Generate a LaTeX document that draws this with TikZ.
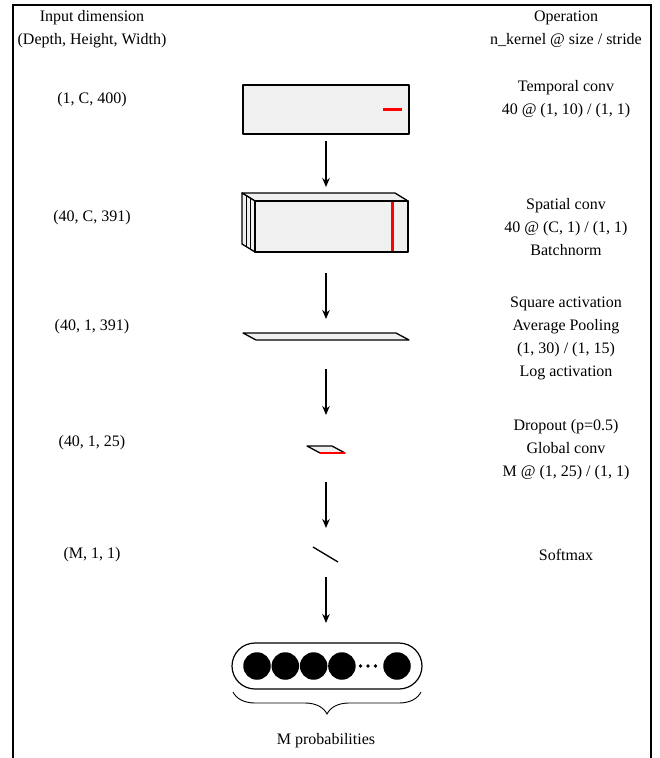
\documentclass[tikz,border=0pt]{standalone}
\usepackage{fontspec}
\setmainfont{Liberation Serif}
\usetikzlibrary{arrows.meta,decorations.pathreplacing}
\begin{document}
\begin{tikzpicture}[x=1pt,y=-1pt,
  lbl/.style={font=\fontsize{16}{23}\selectfont, align=center, inner sep=0pt},
  layer/.style={draw=black, line width=1.3pt, fill=black!6, line join=round},
  kern/.style={draw=red, line width=2.8pt},
  flow/.style={-{Stealth[length=9pt,width=7.5pt]}, line width=1.3pt},
  unit/.style={circle, fill=black, inner sep=0pt, minimum size=27.5pt},
  dot/.style={circle, fill=black, inner sep=0pt, minimum size=3.6pt},
]
\useasboundingbox (0,0) rectangle (660,758);

% outer frame, open at the bottom
\draw[line width=1.8pt] (13,758) -- (13,5) -- (651,5) -- (651,758);

% column headers
\node[lbl] (hdim) at (92,29.5) {Input dimension\\(Depth, Height, Width)};
\node[lbl] (hop)  at (566,29.5) {Operation\\n\_kernel @ size / stride};

% input dimensions
\node[lbl] (d1) at (92,100) {(1, C, 400)};
\node[lbl] (d2) at (92,218) {(40, C, 391)};
\node[lbl] (d3) at (92,327) {(40, 1, 391)};
\node[lbl] (d4) at (92,443) {(40, 1, 25)};
\node[lbl] (d5) at (92,555) {(M, 1, 1)};

% operations
\node[lbl] (o1) at (566,99.5) {Temporal conv\\40 @ (1, 10) / (1, 1)};
\node[lbl] (o2) at (566,227) {Spatial conv\\40 @ (C, 1) / (1, 1)\\Batchnorm};
\node[lbl] (o3) at (566,338.5) {Square activation\\Average Pooling\\(1, 30) / (1, 15)\\Log activation};
\node[lbl] (o4) at (566,450) {Dropout (p=0.5)\\Global conv\\M @ (1, 25) / (1, 1)};
\node[lbl] (o5) at (566,555) {Softmax};

% input slab with temporal kernel
\draw[layer] (243,85) rectangle (409,134);
\draw[kern] (383,109.5) -- (402,109.5);

% stacked feature maps after spatial conv
\draw[layer] (242,193) -- (395,193) -- (408,201) -- (255,201) -- cycle;
\draw[layer] (242,193) -- (255,201) -- (255,252) -- (242,244) -- cycle;
\draw[line width=1.1pt] (246.7,196) -- (246.7,247);
\draw[line width=1.1pt] (250.9,198.5) -- (250.9,249.5);
\draw[layer] (255,201) rectangle (408,252);
\draw[red, line width=3pt] (392,202) -- (392,251);

% pooled sheet
\draw[layer] (243,333) -- (396,333) -- (409,340) -- (256,340) -- cycle;

% small pooled sheet with global kernel
\draw[layer] (307,446) -- (332,446) -- (345,453) -- (320,453) -- cycle;
\draw[red, line width=2.2pt] (320,453) -- (345,453);

% softmax output line
\draw[line width=1.3pt] (313,547) -- (338,562);

% flow arrows
\coordinate (a1s) at (326,141); \coordinate (a1e) at (326,187);
\coordinate (a2s) at (326,273); \coordinate (a2e) at (326,319);
\coordinate (a3s) at (326,369); \coordinate (a3e) at (326,415);
\coordinate (a4s) at (326,482); \coordinate (a4e) at (326,528);
\coordinate (a5s) at (326,577); \coordinate (a5e) at (326,623);
\draw[flow] (a1s) -- (a1e);
\draw[flow] (a2s) -- (a2e);
\draw[flow] (a3s) -- (a3e);
\draw[flow] (a4s) -- (a4e);
\draw[flow] (a5s) -- (a5e);

% output units
\draw[line width=1.2pt, rounded corners=23pt] (232,643) rectangle (422,689);
\node[unit] (u1) at (257,666) {};
\node[unit] (u2) at (285.3,666) {};
\node[unit] (u3) at (313.6,666) {};
\node[unit] (u4) at (341.9,666) {};
\node[unit] (u5) at (397,666) {};
\node[dot] (p1) at (360.5,666) {};
\node[dot] (p2) at (368,666) {};
\node[dot] (p3) at (375.5,666) {};

% brace and caption
\draw[line width=0.9pt, decorate, decoration={brace, mirror, amplitude=22pt}] (233,692) -- (421,692);
\node[lbl] (cap) at (326,741) {M probabilities};
\end{tikzpicture}
\end{document}
